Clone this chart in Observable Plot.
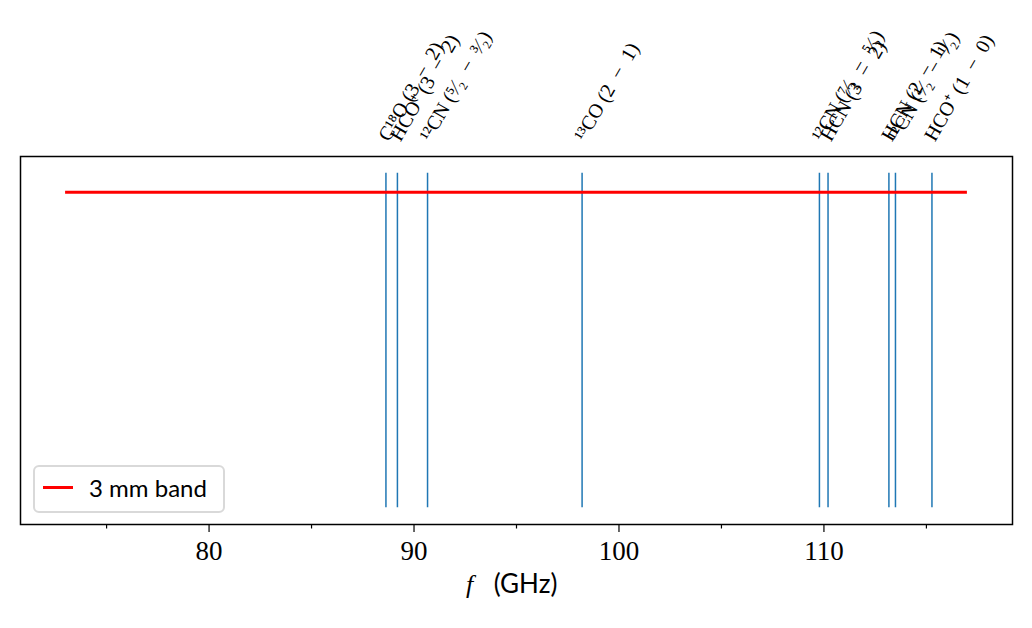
<!DOCTYPE html>
<html>
<head>
<meta charset="utf-8">
<script src="https://cdn.jsdelivr.net/npm/d3@7"></script>
<script src="https://cdn.jsdelivr.net/npm/@observablehq/plot@0.6"></script>
<style>
  html, body { margin: 0; padding: 0; background: #fff; }
  #wrap { position: relative; width: 1032px; height: 628px; }
  #legend { position: absolute; left: 33px; top: 465px; width: 192px; height: 48px;
    border: 2px solid #d9d9d9; border-radius: 6px; background: rgba(255,255,255,0.8); box-sizing: border-box; }
  #legend .swatch { position: absolute; left: 8px; top: 19px; width: 30px; height: 3px; background: #ff0000; }
  #legend .lab { position: absolute; left: 54px; top: 6px; font-family: Lato, "Open Sans", sans-serif; font-size: 24px; line-height: 30px; color: #000; white-space: nowrap; }
</style>
</head>
<body>
<div id="wrap"><div id="legend"><div class="swatch"></div><div class="lab">3 mm band</div></div></div>
<script>
// Line frequencies (GHz) and their labels
const lineFreqs = [88.63, 89.19, 90.66, 98.2, 109.78, 110.2, 113.17, 113.49, 115.27];
const lineLabels = [
  "C\u00B9\u2078O (3\u2002\u2212\u20022)",
  "HCO\u207A (3\u2002\u2212\u20022)",
  "\u00B9\u00B2CN (\u2075\u2044\u2082\u2002\u2212\u2002\u00B3\u2044\u2082)",
  "\u00B9\u00B3CO (2\u2002\u2212\u20021)",
  "\u00B9\u00B2CN (\u2077\u2044\u2082\u2002\u2212\u2002\u2075\u2044\u2082)",
  "HCN (3\u2002\u2212\u20022)",
  "HCN (2\u2002\u2212\u20021)",
  "\u00B9\u00B2CN (\u00B9\u2044\u2082\u2002\u2212\u2002\u00B9\u2044\u2082)",
  "HCO\u207A (1\u2002\u2212\u20020)"
];
// 3 mm band extent (GHz)
const bandStart = [73];
const bandEnd = [117];
const bandLevel = [0.943];
const majorTicks = [80, 90, 100, 110];
const minorTicks = [75, 85, 95, 105, 115];

const lines = lineFreqs.map((f, i) => ({f, label: lineLabels[i]}));
const band = bandStart.map((s, i) => ({x1: s, x2: bandEnd[i], y: bandLevel[i]}));

const chart = Plot.plot({
  width: 1032,
  height: 628,
  marginLeft: 20,
  marginRight: 20,
  marginTop: 156,
  marginBottom: 104,
  x: {domain: [70.8, 119.2]},
  y: {domain: [-0.05, 1.05], axis: null},
  style: {background: "white", overflow: "visible", fontSize: "27px", fontFamily: "'Liberation Serif', serif"},
  marks: [
    Plot.ruleX(lines, {x: "f", y1: 0, y2: 1, stroke: "#1f77b4", strokeWidth: 1.5}),
    Plot.ruleY(band, {y: "y", x1: "x1", x2: "x2", stroke: "#ff0000", strokeWidth: 3}),
    Plot.text(lines, {x: "f", y: 1.05, text: "label", rotate: -60, textAnchor: "start", lineAnchor: "bottom",
      dx: 3, dy: -14, fontSize: 20, fontFamily: "'Liberation Serif', serif", fill: "black", clip: false}),
    Plot.frame({stroke: "black", strokeWidth: 1.5}),
    Plot.axisX({ticks: minorTicks, tickSize: 4.5, text: null, strokeWidth: 1.2}),
    Plot.axisX({ticks: majorTicks, tickSize: 8, tickPadding: 8, strokeWidth: 1.2, fontSize: 27,
      fontFamily: "'Liberation Serif', serif", label: null}),
    Plot.text(["(GHz)"], {frameAnchor: "bottom", dy: 68, dx: 9, text: d => d, fontSize: 26,
      fontFamily: "Lato, 'Open Sans', sans-serif", textAnchor: "middle"}),
    Plot.text(["f"], {frameAnchor: "bottom", dy: 68, dx: -47, text: d => d, fontSize: 26, fontStyle: "italic",
      fontFamily: "'Liberation Serif', serif", textAnchor: "middle"})
  ]
});
chart.style.position = "absolute";
chart.style.left = "0px";
chart.style.top = "0px";
const wrap = document.getElementById("wrap");
wrap.insertBefore(chart, wrap.firstChild);
</script>
</body>
</html>
